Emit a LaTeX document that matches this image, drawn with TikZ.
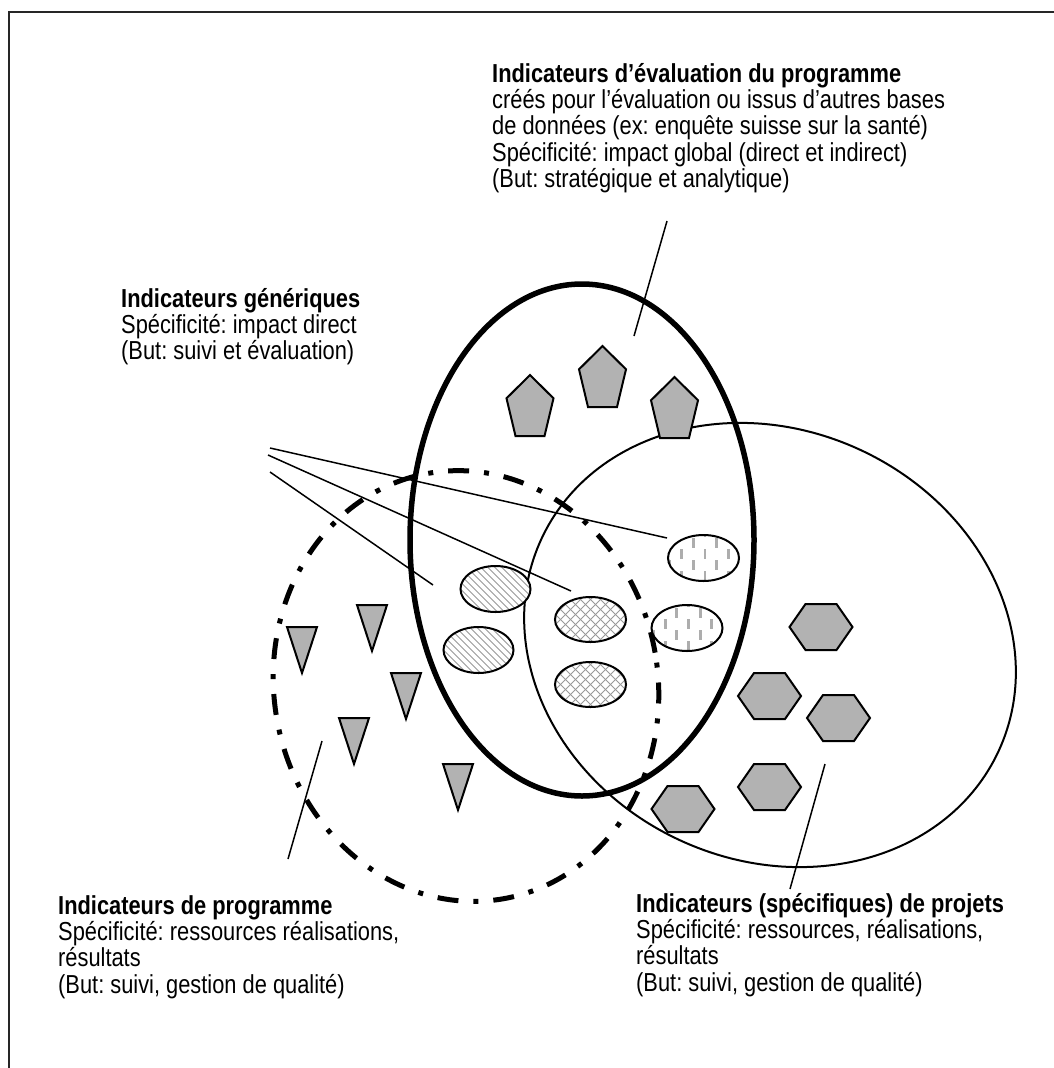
\documentclass[tikz,border=0pt]{standalone}
\usepackage{fontspec}
\setmainfont{Liberation Sans}[UprightFeatures={FakeStretch=0.84},BoldFeatures={FakeStretch=0.84}]
\begin{document}
\frenchspacing
\lineskiplimit=-100pt
\lineskip=0pt
\begin{tikzpicture}[x=1pt,y=-1pt,
  frame/.style={line width=2pt,draw=black!85},
  shapeline/.style={draw=black,line width=2pt,fill=black!30,line join=miter},
  smallell/.style={draw=black,line width=2pt},
  hatchline/.style={draw=black!40,line width=0.9pt},
  dashmark/.style={draw=black!32,line width=2.8pt},
  leader/.style={draw=black,line width=1.5pt},
  txt/.style={anchor=north west,inner sep=0pt,align=left,
    font=\fontsize{26}{26.3}\selectfont}]
\useasboundingbox (0,0) rectangle (1054,1068);
\fill[white] (0,0) rectangle (1054,1068);
% frame
\draw[frame] (9,1070) -- (9,12) -- (1056,12);

% big ellipses
\draw[line width=2pt,rotate around={-25:(770,645)}] (770,645) ellipse [x radius=252pt, y radius=215pt];
\draw[line width=5.5pt] (582,540) ellipse [x radius=172pt, y radius=256pt];
\draw[line width=5pt,dash pattern=on 21pt off 15pt on 5pt off 15pt,rotate around={10:(466,686)}] (466,686) ellipse [x radius=192pt, y radius=216pt];

% pentagons
\newcommand\pentag[2]{\draw[shapeline] ({#1},{#2-33.7}) -- ({#1-23.5},{#2-10.4}) -- ({#1-14.5},{#2+27.3}) -- ({#1+14.5},{#2+27.3}) -- ({#1+23.5},{#2-10.4}) -- cycle;}
\pentag{530}{408.7}
\pentag{602.5}{379.7}
\pentag{674.5}{410.7}

% triangles
\newcommand\trig[2]{\draw[shapeline] ({#1},{#2}) -- ({#1+30},{#2}) -- ({#1+15},{#2+46}) -- cycle;}
\trig{287}{627}
\trig{357}{605}
\trig{391}{673}
\trig{339}{718}
\trig{443}{764}

% hexagons
\newcommand\hexag[2]{\draw[shapeline] ({#1-31.5},{#2}) -- ({#1-15.5},{#2-23}) -- ({#1+15.5},{#2-23}) -- ({#1+31.5},{#2}) -- ({#1+15.5},{#2+23}) -- ({#1-15.5},{#2+23}) -- cycle;}
\hexag{821}{627}
\hexag{769.5}{696}
\hexag{838.5}{718}
\hexag{769.5}{787}
\hexag{683}{809}

% hatched ellipses
\newcommand\ellA[2]{%
  \fill[white] (#1,#2) ellipse [x radius=35pt, y radius=23pt];
  \begin{scope}\clip (#1,#2) ellipse [x radius=35pt, y radius=23pt];
    \foreach \k in {-84,-77,...,84} \draw[hatchline] ({#1+\k-30},{#2-30}) -- ({#1+\k+30},{#2+30});
  \end{scope}
  \draw[smallell] (#1,#2) ellipse [x radius=35pt, y radius=23pt];}
\newcommand\ellB[2]{%
  \fill[white] (#1,#2) ellipse [x radius=35.5pt, y radius=22.5pt];
  \begin{scope}\clip (#1,#2) ellipse [x radius=35.5pt, y radius=22.5pt];
    \foreach \k in {-90,-80,...,90} {\draw[hatchline] ({#1+\k-30},{#2-30}) -- ({#1+\k+30},{#2+30});
      \draw[hatchline] ({#1+\k+30},{#2-30}) -- ({#1+\k-30},{#2+30});}
  \end{scope}
  \draw[smallell] (#1,#2) ellipse [x radius=35.5pt, y radius=22.5pt];}
\newcommand\ellC[2]{%
  \fill[white] (#1,#2) ellipse [x radius=35.5pt, y radius=23pt];
  \begin{scope}\clip (#1,#2) ellipse [x radius=35.5pt, y radius=23pt];
    \foreach \k in {-4,-2,...,4} \foreach \m in {-2,...,1}
      {\draw[dashmark] ({#1+1.5+11.67*\k},{#2-9+22*\m}) -- ++(0,9.5);
       \draw[dashmark] ({#1+1.5+11.67*(\k+1)},{#2-20+22*\m}) -- ++(0,9.5);}
  \end{scope}
  \draw[smallell] (#1,#2) ellipse [x radius=35.5pt, y radius=23pt];}

\ellA{495.5}{589}
\ellA{478.5}{650}
\ellB{590.5}{619.5}
\ellB{590.5}{684.5}
\ellC{703.5}{558}
\ellC{687}{628}

% texts (first baseline = y + 26)
\node[txt] (teval) at (492,56) {\rule{0pt}{26pt}\textbf{Indicateurs d’évaluation du programme}\\créés pour l’évaluation ou issus d’autres bases\\de données (ex: enquête suisse sur la santé)\\Spécificité: impact global (direct et indirect)\\(But: stratégique et analytique)};
\node[txt] (tgen) at (121,281) {\rule{0pt}{26pt}\textbf{Indicateurs génériques}\\Spécificité: impact direct\\(But: suivi et évaluation)};
\node[txt] (tprog) at (58,888) {\rule{0pt}{26pt}\textbf{Indicateurs de programme}\\Spécificité: ressources réalisations,\\résultats\\(But: suivi, gestion de qualité)};
\node[txt] (tproj) at (636,886) {\rule{0pt}{26pt}\textbf{Indicateurs (spécifiques) de projets}\\Spécificité: ressources, réalisations,\\résultats\\(But: suivi, gestion de qualité)};

% leader lines
\coordinate (evA) at (667,221); \coordinate (evB) at (634,336);
\coordinate (gA) at (270,448); \coordinate (gAe) at (667,538);
\coordinate (gB) at (268,455); \coordinate (gBe) at (571,591);
\coordinate (gC) at (270,472); \coordinate (gCe) at (433,585);
\coordinate (pA) at (322,741); \coordinate (pB) at (288,859);
\coordinate (qA) at (825,764); \coordinate (qB) at (790,889);
\draw[leader] (evA) -- (evB);
\draw[leader] (gA) -- (gAe);
\draw[leader] (gB) -- (gBe);
\draw[leader] (gC) -- (gCe);
\draw[leader] (pA) -- (pB);
\draw[leader] (qA) -- (qB);
\end{tikzpicture}
\end{document}
